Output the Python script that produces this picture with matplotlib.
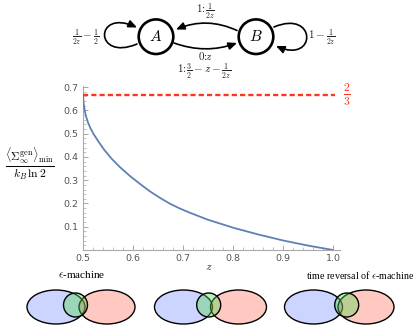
import numpy as np
import matplotlib
matplotlib.use("Agg")
import matplotlib.pyplot as plt
from matplotlib.patches import Circle, Ellipse, FancyArrowPatch
from matplotlib.path import Path
from matplotlib.ticker import MultipleLocator

plt.rcParams['mathtext.fontset'] = 'cm'

# values
z = [0.5, 0.501, 0.503, 0.506, 0.51, 0.515, 0.521, 0.53, 0.542, 0.557, 0.574,
     0.594, 0.614, 0.634, 0.654, 0.674, 0.694, 0.714, 0.75, 0.8, 0.85, 0.9, 0.95, 1.0]
sigma_min = [0.667, 0.635, 0.605, 0.575, 0.548, 0.523, 0.499, 0.469, 0.432, 0.393, 0.356,
             0.318, 0.284, 0.252, 0.224, 0.199, 0.178, 0.160, 0.130, 0.096, 0.067, 0.041, 0.019, 0.0]
bound = 2 / 3
xticks = [0.5, 0.6, 0.7, 0.8, 0.9, 1.0]
yticks = [0.1, 0.2, 0.3, 0.4, 0.5, 0.6, 0.7]

W, H = 415, 329
fig = plt.figure(figsize=(W / 100, H / 100), dpi=100)

# main plot (mathematica style axes)
ax = fig.add_axes([83 / W, 1 - 250 / H, 257 / W, 164 / H])
ax.plot(z, sigma_min, color='#5e81b5', lw=1.3, zorder=3)
ax.plot([z[0], z[-1] + 0.004], [bound, bound], color='#ff3322', lw=1.7,
        linestyle=(0, (2.2, 1.3)), clip_on=False, zorder=4)
ax.set_xlim(0.5, 1.014)
ax.set_ylim(0, 0.705)
for s in ['top', 'right']:
    ax.spines[s].set_visible(False)
for s in ['left', 'bottom']:
    ax.spines[s].set_color('#aaaaaa')
    ax.spines[s].set_linewidth(0.8)
ax.set_xticks(xticks)
ax.set_yticks(yticks)
ax.set_xticklabels(['%.1f' % v for v in xticks])
ax.set_yticklabels(['%.1f' % v for v in yticks])
ax.xaxis.set_minor_locator(MultipleLocator(0.02))
ax.yaxis.set_minor_locator(MultipleLocator(0.02))
ax.tick_params(which='major', direction='in', length=3.5, width=0.6, color='#999999',
               labelsize=6.8, labelcolor='#555555', pad=3)
ax.tick_params(which='minor', direction='in', length=2, width=0.5, color='#aaaaaa')
ax.patch.set_alpha(0)

fig.text(209 / W, 1 - 266 / H, r'$z$', ha='center', va='center', fontsize=8.5, color='#333333')
fig.text(30 / W, 1 - 165 / H,
         r'$\frac{\langle\Sigma^{\rm gen}_{\infty}\rangle_{\rm min}}{k_B\,\ln 2}$',
         ha='center', va='center', fontsize=12)
fig.text(347 / W, 1 - 95 / H, r'$\frac{2}{3}$', ha='center', va='center',
         fontsize=12, color='#ff3322')

# overlay in pixel coordinates for the diagrams
ov = fig.add_axes([0, 0, 1, 1])
ov.set_xlim(0, W)
ov.set_ylim(H, 0)
ov.axis('off')
ov.patch.set_alpha(0)

# state machine
txt = '#222222'
for cx, name in [(156, 'A'), (256, 'B')]:
    ov.add_patch(Circle((cx, 36.7), 17.3, facecolor='white', edgecolor='black', lw=1.9))
    ov.text(cx, 36.7, r'$%s$' % name, ha='center', va='center', fontsize=11)

arrow_kw = dict(arrowstyle='-|>,head_length=0.5,head_width=0.22', mutation_scale=10,
                color='black', lw=1.2, shrinkA=0, shrinkB=0)
ov.add_patch(FancyArrowPatch((237, 30.5), (176, 29.5), connectionstyle='arc3,rad=0.22', **arrow_kw))
ov.add_patch(FancyArrowPatch((174, 43), (237, 43), connectionstyle='arc3,rad=0.18', **arrow_kw))
loop_a = Path([(137, 44), (94, 62), (94, 8), (137, 27.5)],
              [Path.MOVETO, Path.CURVE4, Path.CURVE4, Path.CURVE4])
ov.add_patch(FancyArrowPatch(path=loop_a, **arrow_kw))
loop_b = Path([(274, 27), (317, 9), (317, 64), (276, 46)],
              [Path.MOVETO, Path.CURVE4, Path.CURVE4, Path.CURVE4])
ov.add_patch(FancyArrowPatch(path=loop_b, **arrow_kw))

lab = 8
ov.text(205, 11, r'$1\!:\!\frac{1}{2z}$', ha='center', va='center', fontsize=lab, color=txt)
ov.text(205.5, 56.5, r'$0\!:\!\!z$', ha='center', va='center', fontsize=lab, color=txt)
ov.text(204, 71.5, r'$1\!:\!\frac{3}{2}-z-\frac{1}{2z}$', ha='center', va='center', fontsize=lab, color=txt)
ov.text(86, 37, r'$\frac{1}{2z}-\frac{1}{2}$', ha='center', va='center', fontsize=lab, color=txt)
ov.text(322, 37, r'$1-\frac{1}{2z}$', ha='center', va='center', fontsize=lab, color=txt)

# venn sketches
blue = (0.2, 0.35, 1.0, 0.25)
red = (1.0, 0.3, 0.2, 0.3)
green = (0.3, 0.85, 0.3, 0.38)
venn_blue_x = [56, 183.5, 313.5]
venn_red_x = [107, 238.5, 366]
venn_circle_x = [75.5, 208.7, 346.7]
for bx, rx, gx in zip(venn_blue_x, venn_red_x, venn_circle_x):
    ov.add_patch(Ellipse((bx, 307), 58, 34, facecolor=blue, edgecolor='black', lw=1.0))
    ov.add_patch(Ellipse((rx, 307), 56, 34, facecolor=red, edgecolor='black', lw=1.0))
    ov.add_patch(Circle((gx, 305), 12, facecolor=green, edgecolor='black', lw=1.0))

serif = ['Liberation Serif', 'DejaVu Serif']
ov.text(82, 275, r'$\epsilon$-machine', ha='center', va='center', fontsize=8, family=serif)
ov.text(360, 275, r'time reversal of $\epsilon$-machine', ha='center', va='center',
        fontsize=7.2, family=serif)

fig.savefig('out.png', dpi=100)
